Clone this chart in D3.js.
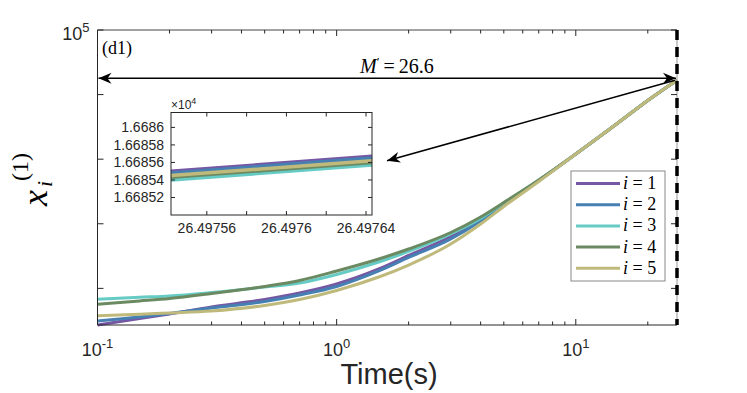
<!DOCTYPE html>
<html>
<head>
<meta charset="utf-8">
<script src="https://cdn.jsdelivr.net/npm/d3@7"></script>
<style>
  body { margin: 0; background: #fff; }
  .sans { font-family: "Liberation Sans", Arial, sans-serif; fill: #262626; }
  .serif { font-family: "Liberation Serif", "DejaVu Serif", serif; fill: #000; }
</style>
</head>
<body>
<svg class="chart"></svg>
<script>
// main curves, x_i^(1) against time
var times = [0.1, 0.15, 0.2, 0.3, 0.5, 0.7, 1, 1.5, 2, 3, 4, 5, 7, 10, 15, 20, 26.4976];
var x1 = [2.71, 3.42, 4.02, 5.15, 6.73, 8.49, 11.7, 19.97, 32.3, 63.6, 116.6, 206.2, 468.1, 1203, 3634, 8102, 16685.5];
var x2 = [3.13, 3.61, 4.09, 4.97, 6.27, 7.90, 10.7, 18.6, 30.1, 58.2, 110.5, 199.0, 463.0, 1203, 3634, 8102, 16685.48];
var x3 = [6.78, 7.28, 7.63, 8.64, 10.51, 12.12, 16.41, 25.6, 37.3, 69.5, 120.8, 209.9, 471.4, 1203, 3634, 8102, 16685.4];
var x4 = [5.67, 6.38, 6.98, 8.34, 10.70, 13.25, 18.59, 28.5, 40.7, 73.3, 127.5, 213.6, 476.4, 1203, 3634, 8102, 16685.43];
var x5 = [3.78, 3.97, 4.16, 4.47, 5.44, 6.73, 9.28, 15.0, 23.0, 48.7, 99.3, 185.3, 451.6, 1203, 3634, 8102, 16685.45];

// zoomed inset near the end
var insetTimes = [26.497542, 26.497643];
var in1 = [16685.50, 16685.67];
var in2 = [16685.48, 16685.65];
var in3 = [16685.40, 16685.57];
var in4 = [16685.43, 16685.60];
var in5 = [16685.45, 16685.62];
var insetXTicks = [26.49756, 26.49758, 26.4976, 26.49762, 26.49764];
var insetYTicks = [16685.2, 16685.4, 16685.6, 16685.8, 16686.0];

var seriesNames = ["1", "2", "3", "4", "5"];
var colors = ["#7657a3", "#4680b2", "#66cbc4", "#6c8a62", "#bfba7b"];
var mValue = "26.6";

var W = 747, H = 393;
var margin = {top: 30, right: 70, bottom: 68, left: 97.5},
    width = W - margin.left - margin.right,
    height = H - margin.top - margin.bottom;

var svg = d3.select(".chart").attr("width", W).attr("height", H);
svg.append("rect").attr("width", W).attr("height", H).attr("fill", "#fff");

var defs = svg.append("defs");
defs.append("marker")
    .attr("id", "head")
    .attr("markerUnits", "userSpaceOnUse")
    .attr("markerWidth", 16).attr("markerHeight", 14)
    .attr("refX", 0).attr("refY", 0)
    .attr("viewBox", "-14 -7 16 14")
    .attr("orient", "auto-start-reverse")
  .append("path")
    .attr("d", "M0,0 L-13,-5.5 L-9,0 L-13,5.5 Z")
    .attr("fill", "#000");

var x = d3.scaleLog().domain([0.1, 26.4976]).range([0, width]);
var y = d3.scaleLog().domain([2.71, 1e5]).range([height, 0]);

var chart = svg.append("g")
    .attr("transform", "translate(" + margin.left + "," + margin.top + ")");

var all = [x1, x2, x3, x4, x5];

var line = d3.line()
    .x(function(d) { return x(d[0]); })
    .y(function(d) { return y(d[1]); })
    .curve(d3.curveMonotoneX);

chart.append("g").selectAll("path")
    .data(all)
  .enter().append("path")
    .attr("d", function(s) { return line(times.map(function(t, i) { return [t, s[i]]; })); })
    .attr("fill", "none")
    .attr("stroke", function(d, i) { return colors[i]; })
    .attr("stroke-width", 3);

// axes frame and ticks
var axisColor = "#262626";
var xMajor = [0.1, 1, 10];
var xMinor = [];
[0.1, 1, 10].forEach(function(b) {
  for (var k = 2; k <= 9; k++) if (b * k < 26.4976) xMinor.push(b * k);
});
var yMajor = [10, 100, 1000, 10000, 100000];

var frame = chart.append("g").attr("stroke", axisColor).attr("stroke-width", 1).attr("fill", "none");
frame.append("path").attr("d", "M0,0 V" + height + " H" + width);
frame.append("path").attr("d", "M0,0 H" + width).attr("stroke", "#444");
frame.append("path").attr("d", "M" + width + ",0 V" + height).attr("stroke", "#999");

xMajor.concat(xMinor).forEach(function(v) {
  var len = xMajor.indexOf(v) >= 0 ? 6 : 3.5;
  frame.append("line").attr("x1", x(v)).attr("x2", x(v)).attr("y1", height).attr("y2", height - len);
  frame.append("line").attr("x1", x(v)).attr("x2", x(v)).attr("y1", 0).attr("y2", len);
});
yMajor.forEach(function(v) {
  frame.append("line").attr("x1", 0).attr("x2", 6).attr("y1", y(v)).attr("y2", y(v));
  frame.append("line").attr("x1", width).attr("x2", width - 6).attr("y1", y(v)).attr("y2", y(v));
});

// x tick labels as 10^n
xMajor.forEach(function(v) {
  var t = chart.append("text").attr("class", "sans")
      .attr("x", x(v)).attr("y", height + 31)
      .attr("text-anchor", "middle").style("font-size", "18px");
  t.append("tspan").text("10");
  t.append("tspan").attr("dy", -8).style("font-size", "13px").text(Math.round(Math.log10(v)));
});
var yt = chart.append("text").attr("class", "sans")
    .attr("x", -8).attr("y", 10).attr("text-anchor", "end").style("font-size", "18px");
yt.append("tspan").text("10");
yt.append("tspan").attr("dy", -8).style("font-size", "13px").text("5");

// axis labels
svg.append("text").attr("class", "sans")
    .attr("x", 389).attr("y", 384)
    .attr("text-anchor", "middle").style("font-size", "29px")
    .text("Time(s)");

var yl = svg.append("g").attr("transform", "translate(47,206) rotate(-90)").attr("class", "serif");
yl.append("text").attr("x", 0).attr("y", 0).style("font-size", "36px").style("font-style", "italic").text("x");
yl.append("text").attr("x", 19).attr("y", 5).style("font-size", "22px").style("font-style", "italic").text("i");
yl.append("text").attr("x", 25).attr("y", -19).style("font-size", "24px").text("(1)");

// dashed line at the end time
chart.append("line")
    .attr("x1", x(26.4976)).attr("x2", x(26.4976))
    .attr("y1", 0).attr("y2", height)
    .attr("stroke", "#000").attr("stroke-width", 3.5)
    .attr("stroke-dasharray", "10,7");

// annotations
chart.append("text").attr("class", "serif")
    .attr("x", 4.5).attr("y", 24).style("font-size", "18px").text("(d1)");

var yEnd = y(16685.5);
chart.append("line")
    .attr("x1", x(0.1) + 1).attr("x2", x(26.4976) - 1)
    .attr("y1", yEnd - 2).attr("y2", yEnd - 2)
    .attr("stroke", "#000").attr("stroke-width", 1.5)
    .attr("marker-start", "url(#head)").attr("marker-end", "url(#head)");

var mt = chart.append("text").attr("class", "serif")
    .attr("x", 262.5).attr("y", 43).style("font-size", "20px");
mt.append("tspan").style("font-style", "italic").text("M");
mt.append("tspan").attr("dy", -7).style("font-size", "13px").text("\u2032");
mt.append("tspan").attr("dy", 7).text("\u2009=\u2009" + mValue);

// legend
var leg = svg.append("g").attr("transform", "translate(571,171)");
leg.append("rect").attr("width", 94).attr("height", 110)
    .attr("fill", "#fff").attr("stroke", "#888").attr("stroke-width", 1);
seriesNames.forEach(function(n, i) {
  var g = leg.append("g").attr("transform", "translate(0," + (12.5 + i * 21.2) + ")");
  g.append("line").attr("x1", 5).attr("x2", 49).attr("stroke", colors[i]).attr("stroke-width", 3);
  var t = g.append("text").attr("class", "serif").attr("x", 52).attr("y", 5.5).style("font-size", "18px");
  t.append("tspan").style("font-style", "italic").text("i");
  t.append("tspan").text(" = " + n);
});

// inset
var inset = {left: 171, top: 112.5, width: 201, height: 102.5};
var xi = d3.scaleLinear().domain(insetTimes).range([0, inset.width]);
var yi = d3.scaleLinear().domain([16685.0, 16686.17]).range([inset.height, 0]);
var ig = svg.append("g").attr("transform", "translate(" + inset.left + "," + inset.top + ")");
ig.append("rect").attr("width", inset.width).attr("height", inset.height).attr("fill", "#fff");
var lineIn = d3.line().x(function(d) { return xi(d[0]); }).y(function(d) { return yi(d[1]); });
[in1, in2, in3, in4, in5].forEach(function(s, i) {
  ig.append("path")
      .attr("d", lineIn(insetTimes.map(function(t, j) { return [t, s[j]]; })))
      .attr("fill", "none").attr("stroke", colors[i]).attr("stroke-width", 3.5);
});
ig.append("rect").attr("width", inset.width).attr("height", inset.height)
    .attr("fill", "none").attr("stroke", axisColor).attr("stroke-width", 1);
insetXTicks.forEach(function(v, i) {
  ig.append("line").attr("x1", xi(v)).attr("x2", xi(v)).attr("y1", inset.height).attr("y2", inset.height - 4).attr("stroke", axisColor);
  ig.append("line").attr("x1", xi(v)).attr("x2", xi(v)).attr("y1", 0).attr("y2", 4).attr("stroke", axisColor);
  if (i % 2 === 0) {
    ig.append("text").attr("class", "sans").attr("x", xi(v)).attr("y", inset.height + 18)
        .attr("text-anchor", "middle").style("font-size", "14px")
        .text(String(+v.toFixed(5)));
  }
});
insetYTicks.forEach(function(v) {
  ig.append("line").attr("x1", 0).attr("x2", 4).attr("y1", yi(v)).attr("y2", yi(v)).attr("stroke", axisColor);
  ig.append("line").attr("x1", inset.width).attr("x2", inset.width - 4).attr("y1", yi(v)).attr("y2", yi(v)).attr("stroke", axisColor);
  ig.append("text").attr("class", "sans").attr("x", -7).attr("y", yi(v) + 5)
      .attr("text-anchor", "end").style("font-size", "14px")
      .text(String(+(v / 1e4).toFixed(5)));
});
var xt = ig.append("text").attr("class", "sans").attr("x", 0).attr("y", -4).style("font-size", "12px");
xt.append("tspan").text("\u00d710");
xt.append("tspan").attr("dy", -5).style("font-size", "9px").text("4");

// arrow from curve end to inset
chart.append("line")
    .attr("x1", x(26.4976) - 2).attr("y1", yEnd)
    .attr("x2", inset.left + inset.width + 15 - margin.left)
    .attr("y2", inset.top + inset.height / 2 - 3 - margin.top)
    .attr("stroke", "#000").attr("stroke-width", 1.5)
    .attr("marker-end", "url(#head)");
</script>
</body>
</html>
